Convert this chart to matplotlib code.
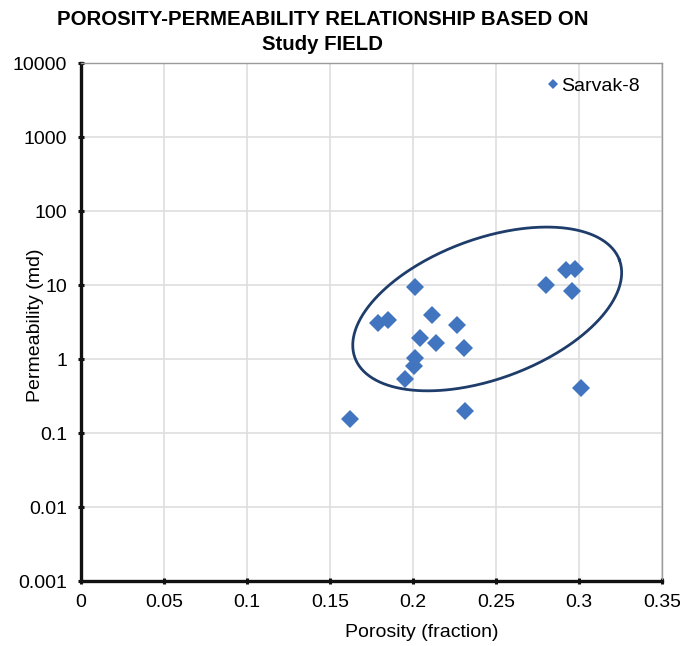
import numpy as np
import matplotlib
matplotlib.use("Agg")
import matplotlib.pyplot as plt

plt.rcParams['font.family'] = ['Liberation Sans', 'DejaVu Sans']

# Core-plug measurements, Sarvak-8
porosity = [0.162, 0.179, 0.185, 0.195, 0.2006, 0.201, 0.2014, 0.2044, 0.2114,
            0.214, 0.2264, 0.231, 0.2316, 0.280, 0.292, 0.2956, 0.2976, 0.301]
permeability = [0.155, 3.1, 3.37, 0.54, 0.80, 1.05, 9.5, 1.96, 3.93,
                1.68, 2.94, 1.44, 0.20, 10.0, 16.0, 8.3, 16.8, 0.415]
series_name = "Sarvak-8"

x_ticks = [0, 0.05, 0.1, 0.15, 0.2, 0.25, 0.3, 0.35]
x_tick_labels = ["0", "0.05", "0.1", "0.15", "0.2", "0.25", "0.3", "0.35"]
y_ticks = [0.001, 0.01, 0.1, 1, 10, 100, 1000, 10000]
y_tick_labels = ["0.001", "0.01", "0.1", "1", "10", "100", "1000", "10000"]

# Cluster outline: centre (porosity, permeability), semi-axes in inches, tilt in degrees
cluster_center = (0.2447, 4.79)
cluster_axes_in = (1.41, 0.70)
cluster_tilt = 20.3

blue = "#4275c0"
navy = "#1f3d6b"

fig = plt.figure(figsize=(6.8, 6.46), dpi=100)
ax = fig.add_axes([81 / 680, 1 - 581.3 / 646, (662 - 81) / 680, (581.3 - 63.3) / 646])

ax.set_yscale("log")
ax.set_xlim(0, 0.35)
ax.set_ylim(0.001, 10000)
ax.set_xticks(x_ticks)
ax.set_xticklabels(x_tick_labels)
ax.set_yticks(y_ticks)
ax.set_yticklabels(y_tick_labels)
ax.minorticks_off()

ax.grid(True, color="#dedede", linewidth=1.2)
ax.set_axisbelow(True)

for side in ("top", "right"):
    ax.spines[side].set_color("#9a9a9a")
    ax.spines[side].set_linewidth(1.0)
for side in ("left", "bottom"):
    ax.spines[side].set_color("#111111")
    ax.spines[side].set_linewidth(2.4)

ax.tick_params(axis="both", direction="inout", length=4, width=2.2,
               color="#111111", labelsize=14)
ax.tick_params(axis="x", pad=7)
ax.tick_params(axis="y", pad=8)

ax.plot(porosity, permeability, linestyle="none", marker="D", markersize=9.5,
        color=blue, markeredgewidth=0, label=series_name, zorder=3)

# Tilted ellipse around the main cluster, built in display space
cx_d, cy_d = ax.transData.transform(cluster_center)
t = np.linspace(0, 2 * np.pi, 400)
a_px = cluster_axes_in[0] * fig.dpi
b_px = cluster_axes_in[1] * fig.dpi
th = np.deg2rad(cluster_tilt)
ex = cx_d + a_px * np.cos(t) * np.cos(th) - b_px * np.sin(t) * np.sin(th)
ey = cy_d + a_px * np.cos(t) * np.sin(th) + b_px * np.sin(t) * np.cos(th)
pts = ax.transData.inverted().transform(np.column_stack([ex, ey]))
ax.plot(pts[:, 0], pts[:, 1], color=navy, linewidth=2.0, zorder=4)

leg = ax.legend(loc="upper right", frameon=False, fontsize=14, handlelength=0.6,
                handletextpad=0.1, markerscale=0.55, borderaxespad=0.3,
                bbox_to_anchor=(0.985, 1.0))

ax.set_xlabel("Porosity (fraction)", fontsize=14)
ax.xaxis.set_label_coords(0.586, -0.082)
ax.set_ylabel("Permeability (md)", fontsize=14)
ax.yaxis.set_label_coords(-0.063, 0.495)

fig.text(323 / 680, 1 - 32 / 646, "POROSITY-PERMEABILITY RELATIONSHIP BASED ON\nStudy FIELD",
         ha="center", va="center", fontsize=14.7, fontweight="bold", linespacing=1.45)

fig.savefig("out.png", dpi=100)
